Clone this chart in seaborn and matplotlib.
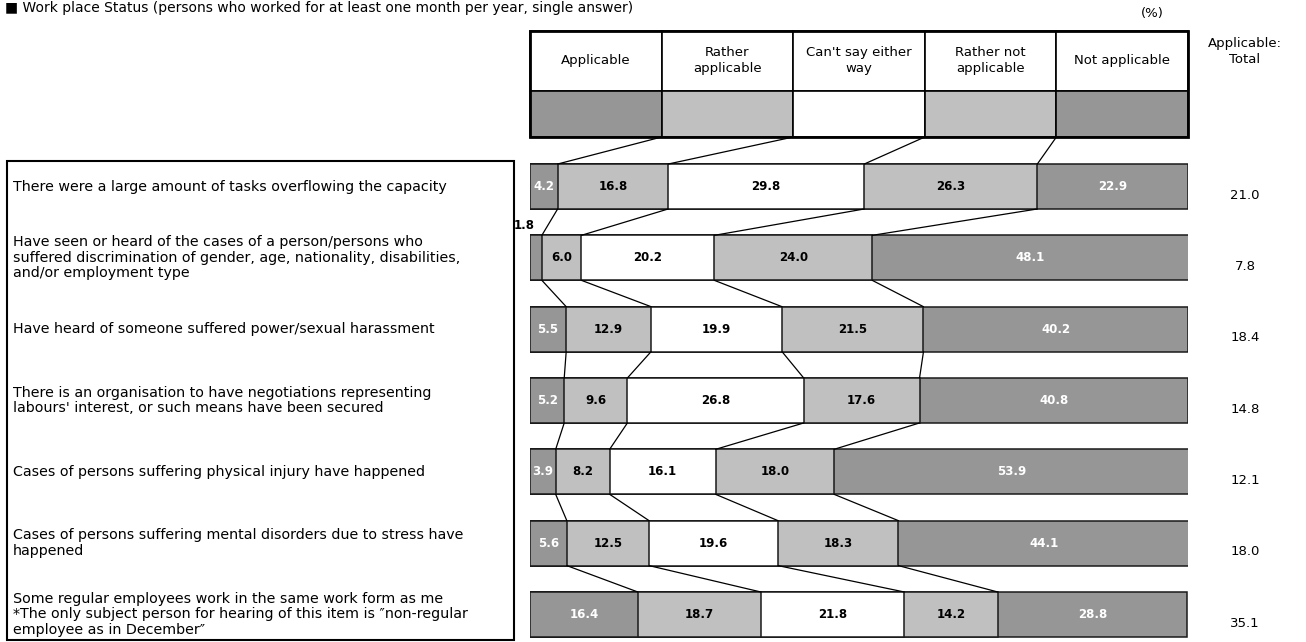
import numpy as np
import pandas as pd
import matplotlib
matplotlib.use('Agg')
import matplotlib.pyplot as plt
import matplotlib.transforms as mtransforms
from matplotlib.patches import Rectangle
import seaborn as sns

title = "■ Work place Status (persons who worked for at least one month per year, single answer)"
categories = ["Applicable", "Rather\napplicable", "Can't say either\nway",
              "Rather not\napplicable", "Not applicable"]
items = [
    "There were a large amount of tasks overflowing the capacity",
    "Have seen or heard of the cases of a person/persons who\nsuffered discrimination of gender, age, nationality, disabilities,\nand/or employment type",
    "Have heard of someone suffered power/sexual harassment",
    "There is an organisation to have negotiations representing\nlabours' interest, or such means have been secured",
    "Cases of persons suffering physical injury have happened",
    "Cases of persons suffering mental disorders due to stress have\nhappened",
    "Some regular employees work in the same work form as me\n*The only subject person for hearing of this item is \u2033non-regular\nemployee as in December\u2033",
]
applicable = [4.2, 1.8, 5.5, 5.2, 3.9, 5.6, 16.4]
rather_applicable = [16.8, 6.0, 12.9, 9.6, 8.2, 12.5, 18.7]
cant_say = [29.8, 20.2, 19.9, 26.8, 16.1, 19.6, 21.8]
rather_not = [26.3, 24.0, 21.5, 17.6, 18.0, 18.3, 14.2]
not_applicable = [22.9, 48.1, 40.2, 40.8, 53.9, 44.1, 28.8]
applicable_total = [21.0, 7.8, 18.4, 14.8, 12.1, 18.0, 35.1]

dark, light = '#969696', '#c0c0c0'
colors = [dark, light, 'white', light, dark]
text_colors = ['white', 'black', 'black', 'black', 'white']

sns.set_style('white')
plt.rcParams['font.family'] = ['DejaVu Sans']
plt.rcParams['text.color'] = 'black'

values = np.array([applicable, rather_applicable, cant_say, rather_not, not_applicable])
cum = np.cumsum(values, axis=0)
ids = [str(i) for i in range(len(items))]
df = pd.DataFrame({'item': ids})
for k in range(5):
    df[f'cum{k}'] = cum[k]

W, H = 1306, 642
fig = plt.figure(figsize=(W / 100, H / 100), dpi=100)
ax = fig.add_axes([530 / W, 0, 658 / W, 1])

bh = 0.63
for k in reversed(range(5)):
    sns.barplot(data=df, x=f'cum{k}', y='item', orient='h', color=colors[k], saturation=1,
                width=bh, edgecolor='#1a1a1a', linewidth=1.1, errorbar=None, ax=ax)

# value labels
for i in range(len(items)):
    left = 0
    for k in range(5):
        v = values[k, i]
        if v < 2.5:
            ax.text(left - 0.9, i - 0.45, f"{v:.1f}", ha='center', va='center',
                    fontsize=8.5, fontweight='bold', color='black')
        else:
            ax.text(left + v / 2, i, f"{v:.1f}", ha='center', va='center',
                    fontsize=8.5, fontweight='bold', color=text_colors[k])
        left += v

# connector lines between bars
for i in range(len(items) - 1):
    for k in range(4):
        ax.plot([cum[k, i], cum[k, i + 1]], [i + bh / 2, i + 1 - bh / 2], color='black', lw=0.9)

# header
h_top, h_mid, h_bot = -2.18, -1.34, -0.694
for k in range(5):
    ax.add_patch(Rectangle((20 * k, h_top), 20, h_mid - h_top, facecolor='white',
                           edgecolor='black', lw=1.2, clip_on=False))
    ax.add_patch(Rectangle((20 * k, h_mid), 20, h_bot - h_mid, facecolor=colors[k],
                           edgecolor='black', lw=1.2, clip_on=False))
    ax.text(20 * k + 10, (h_top + h_mid) / 2, categories[k], ha='center', va='center',
            fontsize=9.5, linespacing=1.3)
ax.add_patch(Rectangle((0, h_top), 100, h_bot - h_top, fill=False, edgecolor='black',
                       lw=2, clip_on=False))
for k in range(4):
    ax.plot([20 * (k + 1), cum[k, 0]], [h_bot, -bh / 2], color='black', lw=0.9)

ax.set_xlim(0, 100)
ax.set_ylim((H - 186.5) / 71.33, -186.5 / 71.33)
ax.axis('off')

# left labels and right totals
blend = mtransforms.blended_transform_factory(fig.transFigure, ax.transData)
for i, lab in enumerate(items):
    ax.text(13 / W, i, lab, transform=blend, ha='left', va='center', fontsize=10.3,
            linespacing=1.15)
    ax.text(1245 / W, i + 0.12, f"{applicable_total[i]:.1f}", transform=blend,
            ha='center', va='center', fontsize=9.5)
ax.text(1245 / W, -1.89, "Applicable:\nTotal", transform=blend, ha='center',
        va='center', fontsize=9.5, linespacing=1.3)
ax.text(1152 / W, -2.43, "(%)", transform=blend, ha='center', va='center', fontsize=9.5)

fig.patches.append(Rectangle((7 / W, 2 / H), (514 - 7) / W, (H - 161 - 2) / H,
                             transform=fig.transFigure, fill=False, edgecolor='black', lw=1.5))
fig.text(5 / W, 0.999, title, ha='left', va='top', fontsize=10)

fig.savefig('out.png', dpi=100)
